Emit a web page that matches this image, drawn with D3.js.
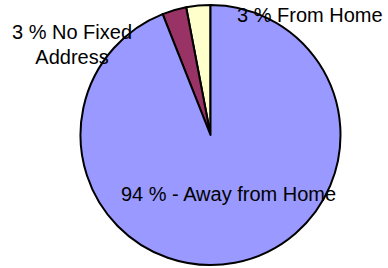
<!DOCTYPE html>
<html>
<head>
<meta charset="utf-8">
<script src="https://cdn.jsdelivr.net/npm/d3@7"></script>
<style>
  body { margin: 0; background: #fff; }
  svg { display: block; }
  text { font-family: "Liberation Sans", Arial, sans-serif; font-size: 20px; fill: #000; }
</style>
</head>
<body>
<svg width="388" height="268"></svg>
<script>
// slices, in drawing order (counter-clockwise from 12 o'clock)
var categories = ['From Home', 'No Fixed Address', 'Away from Home'];
var values = [3, 3, 94];
var labels = [['3 % From Home'], ['3 % No Fixed', 'Address'], ['94 % - Away from Home']];
var colors = ['#FFFFCC', '#993366', '#9999FF'];

var width = 388, height = 268;
var cx = 210.5, cy = 135, radius = 130;

// where each label sits, relative to the pie centre
var labelPos = [
    { x: 26.5, y: -113, anchor: 'start' },
    { x: -138.5, y: -96, anchor: 'middle' },
    { x: 18, y: 66, anchor: 'middle' }
];

var svg = d3.select('svg');
var g = svg.append('g').attr('transform', 'translate(' + cx + ',' + cy + ')');

var pie = d3.pie()
    .sort(null)
    .startAngle(0)
    .endAngle(-2 * Math.PI)
    .value(function (d) { return d; });

var arc = d3.arc().innerRadius(0).outerRadius(radius);

var color = d3.scaleOrdinal().domain(categories).range(colors);

g.selectAll('path')
    .data(pie(values))
    .enter()
    .append('path')
    .attr('d', arc)
    .attr('fill', function (d, i) { return color(categories[i]); })
    .attr('stroke', '#000')
    .attr('stroke-width', 2)
    .attr('stroke-linejoin', 'round');

var lab = g.selectAll('text.lbl')
    .data(labels)
    .enter()
    .append('text')
    .attr('class', 'lbl')
    .attr('text-anchor', function (d, i) { return labelPos[i].anchor; })
    .attr('transform', function (d, i) { return 'translate(' + labelPos[i].x + ',' + labelPos[i].y + ')'; });

lab.selectAll('tspan')
    .data(function (d) { return d; })
    .enter()
    .append('tspan')
    .attr('x', 0)
    .attr('y', function (d, j) { return j * 25; })
    .text(function (d) { return d; });
</script>
</body>
</html>
